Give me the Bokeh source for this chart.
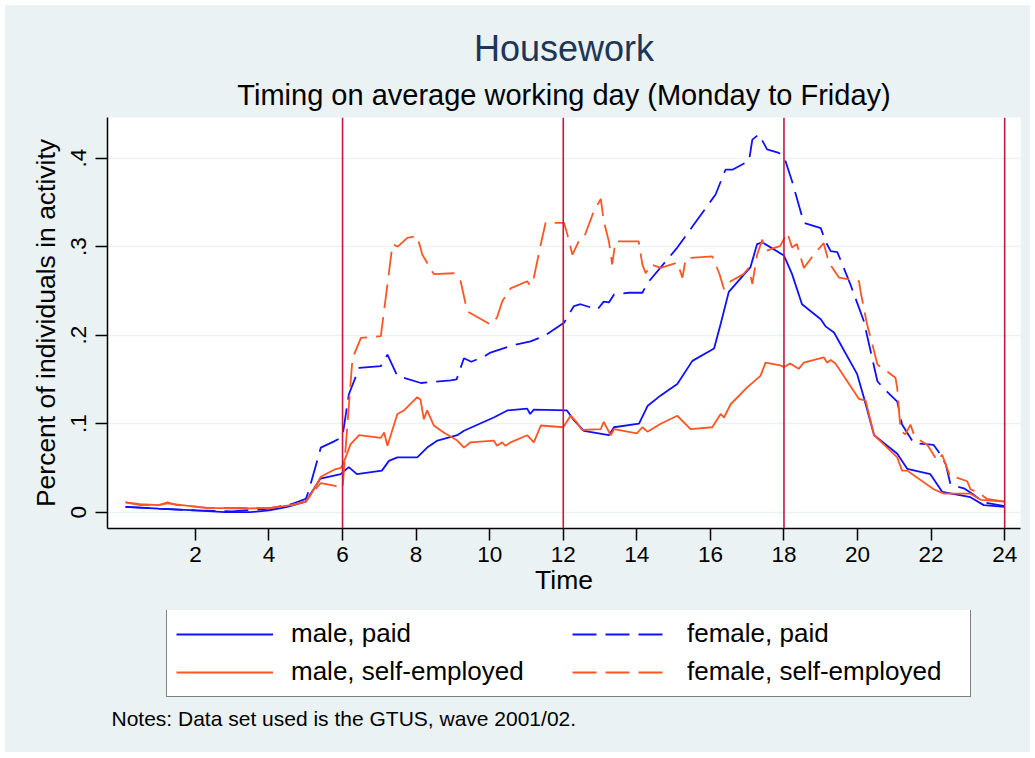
from bokeh.plotting import figure
from bokeh.layouts import column
from bokeh.models import Span, Legend, LegendItem, Title, FixedTicker, Label, Range1d
from bokeh.embed import file_html
from bokeh.resources import INLINE

# ---------------- data ----------------
mp_t = [0.1, 1.0, 2.0, 2.8, 3.5, 4.0, 4.5, 5.0, 5.4, 5.95, 6.17, 6.39, 7.07, 7.26, 7.49,
        8.03, 8.3, 8.58, 9.12, 9.3, 10.11, 10.48, 11.02, 11.1, 11.2, 12.1, 12.29, 12.56,
        13.24, 13.38, 14.06, 14.29, 14.65, 15.1, 15.51, 16.1, 16.28, 16.5, 17.09, 17.27,
        17.41, 18.0, 18.22, 18.49, 19.0, 19.13, 19.36, 19.99, 20.17, 20.45, 21.08, 21.35,
        21.98, 22.3, 23.07, 23.43, 24.0]
mp_y = [0.006, 0.004, 0.002, 0.0, 0.0, 0.002, 0.006, 0.012, 0.038, 0.043, 0.051, 0.043,
        0.047, 0.058, 0.062, 0.062, 0.073, 0.081, 0.087, 0.092, 0.107, 0.115, 0.117, 0.111,
        0.116, 0.115, 0.104, 0.092, 0.087, 0.096, 0.100, 0.120, 0.132, 0.145, 0.171, 0.185,
        0.213, 0.249, 0.277, 0.303, 0.305, 0.290, 0.269, 0.235, 0.218, 0.210, 0.203, 0.156,
        0.130, 0.087, 0.066, 0.049, 0.043, 0.023, 0.017, 0.008, 0.006]

fp_t = [0.1, 1.0, 2.0, 3.0, 4.0, 4.6, 5.0, 5.08, 5.41, 5.77, 5.95, 6.0, 6.17, 6.45, 7.04,
        7.22, 7.49, 8.13, 8.94, 9.1, 9.3, 9.5, 9.85, 10.0, 10.66, 11.11, 11.48, 12.02,
        12.29, 12.47, 12.93, 13.1, 13.24, 13.38, 13.78, 14.15, 14.29, 15.1, 15.55, 16.14,
        16.41, 16.6, 17.05, 17.14, 17.32, 17.54, 17.86, 18.0, 18.22, 18.54, 19.0, 19.13,
        19.27, 19.45, 19.81, 20.17, 20.54, 20.71, 21.08, 21.21, 21.53, 22.07, 22.26, 22.4,
        22.53, 22.89, 23.15, 23.43, 24.0]
fp_y = [0.006, 0.004, 0.002, 0.001, 0.004, 0.009, 0.015, 0.024, 0.073, 0.080, 0.084, 0.086,
        0.133, 0.163, 0.165, 0.178, 0.154, 0.146, 0.149, 0.150, 0.174, 0.170, 0.176, 0.180,
        0.189, 0.193, 0.199, 0.214, 0.233, 0.235, 0.229, 0.238, 0.237, 0.246, 0.248, 0.248,
        0.259, 0.299, 0.325, 0.359, 0.387, 0.387, 0.397, 0.421, 0.427, 0.410, 0.406, 0.402,
        0.374, 0.327, 0.321, 0.306, 0.295, 0.294, 0.257, 0.216, 0.148, 0.140, 0.125, 0.099,
        0.078, 0.076, 0.065, 0.054, 0.031, 0.027, 0.020, 0.011, 0.007]

ms_t = [0.1, 0.5, 1.0, 1.24, 1.87, 2.3, 3.3, 4.05, 4.6, 5.0, 5.14, 5.41, 5.77, 5.95, 6.0,
        6.22, 6.45, 7.04, 7.13, 7.22, 7.49, 7.67, 8.03, 8.12, 8.21, 8.3, 8.48, 8.75, 9.12,
        9.3, 9.48, 10.11, 10.2, 10.34, 10.43, 10.57, 11.02, 11.2, 11.39, 12.0, 12.2, 12.34,
        12.51, 13.02, 13.1, 13.29, 13.38, 14.0, 14.15, 14.29, 14.65, 15.1, 15.46, 16.05,
        16.28, 16.37, 16.55, 17.0, 17.36, 17.5, 17.9, 18.0, 18.17, 18.4, 18.54, 19.08,
        19.17, 19.27, 19.4, 20.04, 20.22, 20.45, 21.08, 21.21, 21.35, 22.07, 22.35, 23.07,
        23.35, 24.0]
ms_y = [0.011, 0.009, 0.008, 0.010, 0.007, 0.005, 0.004, 0.005, 0.008, 0.012, 0.020, 0.040,
        0.048, 0.050, 0.053, 0.077, 0.087, 0.084, 0.090, 0.075, 0.111, 0.115, 0.130, 0.127,
        0.105, 0.115, 0.098, 0.090, 0.081, 0.073, 0.079, 0.081, 0.075, 0.079, 0.075, 0.079,
        0.087, 0.079, 0.098, 0.096, 0.109, 0.103, 0.093, 0.094, 0.102, 0.087, 0.094, 0.089,
        0.096, 0.091, 0.100, 0.109, 0.094, 0.096, 0.111, 0.107, 0.122, 0.141, 0.154, 0.169,
        0.166, 0.164, 0.168, 0.162, 0.169, 0.175, 0.169, 0.172, 0.168, 0.128, 0.126, 0.087,
        0.062, 0.047, 0.047, 0.026, 0.021, 0.021, 0.014, 0.012]

fs_t = [0.1, 0.5, 1.0, 1.24, 1.5, 1.87, 2.3, 3.3, 4.05, 4.6, 5.0, 5.14, 5.41, 5.77, 5.95,
        6.0, 6.27, 6.5, 7.04, 7.36, 7.5, 7.76, 8.03, 8.17, 8.48, 9.03, 9.21, 9.39, 10.03,
        10.2, 10.34, 10.57, 11.02, 11.1, 11.2, 11.39, 11.52, 12.02, 12.11, 12.25, 12.42,
        12.56, 12.83, 13.02, 13.1, 13.24, 13.33, 13.42, 14.05, 14.15, 14.24, 14.38, 14.65,
        15.1, 15.24, 15.33, 16.05, 16.24, 16.37, 16.55, 16.9, 17.04, 17.14, 17.27, 17.41,
        17.5, 17.9, 18.09, 18.22, 18.35, 18.54, 18.81, 19.08, 19.22, 19.5, 20.04, 20.08,
        20.26, 20.45, 20.54, 21.03, 21.08, 21.17, 21.3, 21.44, 21.53, 21.67, 21.9, 22.17,
        22.3, 22.53, 22.7, 22.98, 23.07, 23.3, 23.52, 24.0]
fs_y = [0.011, 0.008, 0.008, 0.011, 0.008, 0.007, 0.005, 0.005, 0.005, 0.008, 0.012, 0.020,
        0.033, 0.030, 0.028, 0.027, 0.174, 0.197, 0.199, 0.303, 0.300, 0.310, 0.312, 0.291,
        0.269, 0.270, 0.261, 0.227, 0.212, 0.220, 0.238, 0.253, 0.261, 0.256, 0.265, 0.303,
        0.327, 0.327, 0.314, 0.291, 0.306, 0.310, 0.340, 0.354, 0.329, 0.306, 0.280, 0.306,
        0.306, 0.280, 0.270, 0.280, 0.276, 0.282, 0.265, 0.287, 0.289, 0.270, 0.252, 0.261,
        0.269, 0.276, 0.258, 0.291, 0.308, 0.295, 0.301, 0.316, 0.299, 0.303, 0.276, 0.291,
        0.304, 0.282, 0.265, 0.261, 0.250, 0.212, 0.182, 0.167, 0.152, 0.140, 0.092, 0.088,
        0.099, 0.088, 0.082, 0.076, 0.058, 0.065, 0.039, 0.039, 0.035, 0.026, 0.022, 0.015,
        0.012]

series_labels = ["male, paid", "female, paid", "male, self-employed", "female, self-employed"]
x_ticks = [2, 4, 6, 8, 10, 12, 14, 16, 18, 20, 22, 24]
y_ticks = [0, 0.1, 0.2, 0.3, 0.4]
y_tick_labels = ["0", ".1", ".2", ".3", ".4"]
x_lines = [6, 12, 18, 24]
note_text = "Notes: Data set used is the GTUS, wave 2001/02."

# ---------------- styles ----------------
BG = "#EAF2F3"
BLUE = "#1010FF"
ORANGE = "#FF5522"
VLINE = "#C8173F"
FONT = "Liberation Sans"
DASH = "24 9"
LW = 1.8
NAN = float("nan")

p = figure(width=1025, height=605, output_backend="svg", toolbar_location=None,
           x_range=(-0.39, 24.43), y_range=(-0.0184, 0.446),
           min_border_left=102, min_border_right=10, min_border_top=112, min_border_bottom=82,
           background_fill_color="white", border_fill_color=BG, outline_line_color=None)

# titles (the title added later sits closer to the frame)
p.title.text = "Housework"
p.title.align = "center"
p.title.text_font = FONT
p.title.text_font_size = "36px"
p.title.text_font_style = "normal"
p.title.text_color = "#1E3556"
p.title.standoff = 4
p.add_layout(Title(text="Timing on average working day (Monday to Friday)", align="center",
                   text_font=FONT, text_font_size="29px", text_font_style="normal",
                   text_color="#000000", standoff=13), "above")

# grid
p.xgrid.visible = False
p.ygrid.ticker = FixedTicker(ticks=y_ticks)
p.ygrid.grid_line_color = BG
p.ygrid.grid_line_width = 1.5

# axes
p.xaxis.ticker = FixedTicker(ticks=x_ticks)
p.yaxis.ticker = FixedTicker(ticks=y_ticks)
p.yaxis.major_label_overrides = {t: l for t, l in zip(y_ticks, y_tick_labels)}
p.yaxis.major_label_orientation = "vertical"
p.xaxis.axis_label = "Time"
p.yaxis.axis_label = "Percent of individuals in activity"
for ax in (p.xaxis[0], p.yaxis[0]):
    ax.axis_line_color = "black"
    ax.axis_line_width = 1.5
    ax.major_tick_line_color = "black"
    ax.major_tick_line_width = 1.5
    ax.major_tick_out = 12
    ax.major_tick_in = 0
    ax.minor_tick_out = 0
    ax.minor_tick_in = 0
    ax.major_label_text_font = FONT
    ax.major_label_text_font_size = "22.5px"
    ax.major_label_text_color = "black"
    ax.axis_label_text_font = FONT
    ax.axis_label_text_font_size = "26.5px"
    ax.axis_label_text_font_style = "normal"
    ax.axis_label_text_color = "black"
p.xaxis.major_label_standoff = 6
p.xaxis.axis_label_standoff = 0
p.yaxis.major_label_standoff = 9
p.yaxis.axis_label_standoff = 8

# vertical reference lines
for xl in x_lines:
    p.add_layout(Span(location=xl, dimension="height", line_color=VLINE, line_width=1.6))

# series
styles = [(BLUE, "solid"), (BLUE, DASH), (ORANGE, "solid"), (ORANGE, DASH)]
data = [(mp_t, mp_y), (fp_t, fp_y), (ms_t, ms_y), (fs_t, fs_y)]
for (xs, ys), (c, d) in zip(data, styles):
    p.line(xs, ys, line_color=c, line_width=LW, line_dash=d)

# ---------------- legend + note panel (its frame is aligned with the plot frame) ----------------
p2 = figure(width=1025, height=142, output_backend="svg", toolbar_location=None,
            x_range=Range1d(0, 1), y_range=Range1d(0, 1), x_axis_type=None, y_axis_type=None,
            min_border_left=0, min_border_right=0, min_border_top=0, min_border_bottom=0,
            background_fill_color=BG, border_fill_color=BG, outline_line_color=None)
p2.xgrid.visible = False
p2.ygrid.visible = False

items = []
for lab, (c, d) in zip(series_labels, styles):
    r = p2.line([NAN, NAN], [NAN, NAN], line_color=c, line_width=LW, line_dash=d)
    items.append(LegendItem(label=lab, renderers=[r]))

legend = Legend(items=items, orientation="horizontal", ncols=2, location=(59, 55),
                glyph_width=97, glyph_height=20, label_standoff=18, label_width=274,
                spacing=7, padding=9, margin=0,
                label_text_font=FONT, label_text_font_size="26px", label_text_color="black",
                border_line_color="black", border_line_width=1.5,
                background_fill_color="white", background_fill_alpha=1.0)
p2.add_layout(legend)

p2.add_layout(Label(x=4, y=34, x_units="screen", y_units="screen", text=note_text,
                    text_font=FONT, text_font_size="21px", text_color="black",
                    text_baseline="middle", text_align="left"))

layout = column(p, p2, spacing=0, margin=(5, 0, 0, 5), styles={"background-color": BG})
open("out.html", "w").write(file_html(layout, INLINE))
